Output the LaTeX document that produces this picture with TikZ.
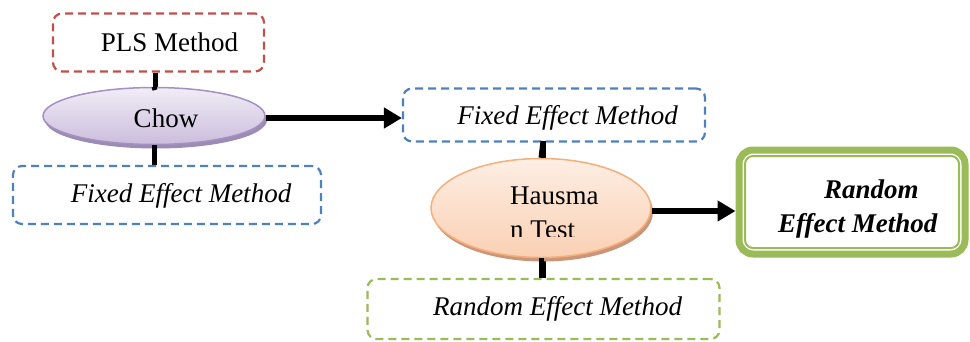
\documentclass[tikz,border=0pt]{standalone}
\usepackage{fontspec}
\setmainfont{Liberation Serif}
\usetikzlibrary{shapes.geometric,arrows.meta}
\definecolor{cred}{HTML}{C0504D}
\definecolor{cblue}{HTML}{4F81BD}
\definecolor{cgreen}{HTML}{9BBB59}
\definecolor{lavtop}{HTML}{F1EDF6}
\definecolor{lavbot}{HTML}{CBBDDC}
\definecolor{lavline}{HTML}{A491C4}
\definecolor{lavshadow}{HTML}{9C8BB2}
\definecolor{peachtop}{HTML}{FDEEE4}
\definecolor{peachbot}{HTML}{FAD0B3}
\definecolor{peachline}{HTML}{F6AE7A}
\definecolor{peachshadow}{HTML}{C9967A}
\tikzset{
  txt/.style={font=\fontsize{27}{34}\selectfont},
  dbox/.style={draw, rounded corners=9pt, line width=2.2pt, dash pattern=on 8pt off 5pt, fill=white, txt},
  conn/.style={line width=5pt, black},
  arr/.style={line width=6pt, black, -{Triangle[length=18pt,width=20pt]}},
}
\begin{document}
\begin{tikzpicture}[x=1pt,y=-1pt]
\useasboundingbox (0,0) rectangle (970,341);
% boxes
\node[dbox, draw=cred, minimum width=211pt, minimum height=58pt] (pls) at (158.5,42.5) {\hspace*{22pt}PLS Method};
\node[dbox, draw=cblue, minimum width=308pt, minimum height=58pt] (fix1) at (167,195) {};
\node[txt, inner sep=0pt] (fix1txt) at (181,196) {\itshape Fixed Effect Method};
\node[dbox, draw=cblue, minimum width=302pt, minimum height=53pt] (fix2) at (554,115) {};
\node[txt, inner sep=0pt] (fix2txt) at (567.5,118) {\itshape Fixed Effect Method};
\node[dbox, draw=cgreen, minimum width=352pt, minimum height=60pt] (rnd) at (543.5,309) {\hspace*{28pt}\itshape Random Effect Method};
% final box
\node[draw=cgreen, line width=7pt, rounded corners=14pt, fill=white, minimum width=226pt, minimum height=104pt] (final) at (852,202) {};
\draw[cgreen, line width=2pt, rounded corners=8pt] ([xshift=9.5pt,yshift=-9.5pt]final.north west) rectangle ([xshift=-9.5pt,yshift=9.5pt]final.south east);
\node[txt, font=\fontsize{27}{34}\selectfont\bfseries\itshape, align=left, anchor=base west, inner sep=0pt] (finaltxt) at (778,232) {\hspace*{46pt}Random\\Effect Method};
% connectors
\draw[conn] (pls.south -| 155,0) -- (155,90) coordinate (chowtop);
\draw[conn] (543,141) coordinate (f2b) -- (543,160) coordinate (haustop);
\draw[conn] (543,255) coordinate (hausbot) -- (rnd.north -| 543,0);
% Chow ellipse
\node[ellipse, fill=lavshadow, minimum width=222pt, minimum height=57pt, inner sep=0pt] (chowsh) at (156,120) {};
\node[ellipse, draw=lavline, line width=1.5pt, top color=lavtop, bottom color=lavbot, minimum width=222pt, minimum height=57pt, inner sep=0pt] (chow) at (154,116) {};
\node[txt, inner sep=0pt] (chowtxt) at (166,118) {Chow};
\draw[conn] (chow.south) -- (fix1.north -| chow.south);
\draw[conn] (chowtop) -- (chow.north);
\draw[arr] ([yshift=-2pt]chow.east) -- (fix2.west |- 0,118);
% Hausman ellipse
\node[ellipse, fill=peachshadow, minimum width=220pt, minimum height=99pt, inner sep=0pt] (haussh) at (543,212) {};
\node[ellipse, draw=peachline, line width=1.5pt, top color=peachtop, bottom color=peachbot, minimum width=220pt, minimum height=99pt, inner sep=0pt] (haus) at (541,208) {};
\begin{scope}
\clip (440,170) rectangle (640,236.5);
\node[txt, align=left, anchor=base west, inner sep=0pt] (haustxt) at (510,238) {Hausma\\n Test};
\end{scope}
\draw[conn] (f2b) -- (haus.north);
\draw[conn] (haus.south) -- (rnd.north -| haus.south);
\draw[arr] ([yshift=-3pt]haus.east) -- (final.west |- 0,211);
\end{tikzpicture}
\end{document}
